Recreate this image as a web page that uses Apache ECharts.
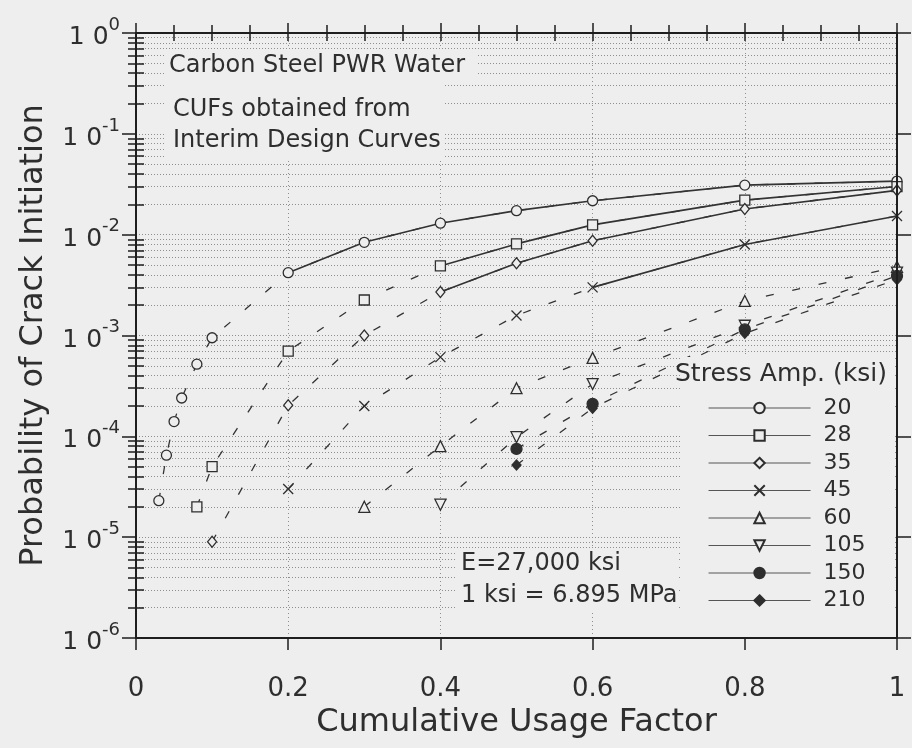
<!DOCTYPE html>
<html>
<head>
<meta charset="utf-8">
<script src="https://cdn.jsdelivr.net/npm/echarts@6/dist/echarts.min.js"></script>
<style>
  html, body { margin: 0; padding: 0; background: #eeeeee; }
  #chart { width: 912px; height: 748px; }
</style>
</head>
<body>
<div id="chart"></div>
<script>
// Stress amplitudes (ksi), in legend order
const stressAmps = ['20', '28', '35', '45', '60', '105', '150', '210'];

// Cumulative usage factor and probability of crack initiation per stress amplitude
const cuf20   = [0.03, 0.04, 0.05, 0.06, 0.08, 0.1, 0.2, 0.3, 0.4, 0.5, 0.6, 0.8, 1.0];
const prob20  = [2.3e-5, 6.5e-5, 1.4e-4, 2.4e-4, 5.2e-4, 9.5e-4, 4.2e-3, 8.4e-3, 1.3e-2, 1.73e-2, 2.17e-2, 3.1e-2, 3.4e-2];
const cuf28   = [0.08, 0.1, 0.2, 0.3, 0.4, 0.5, 0.6, 0.8, 1.0];
const prob28  = [2e-5, 5e-5, 7e-4, 2.25e-3, 4.9e-3, 8.1e-3, 1.25e-2, 2.2e-2, 3.0e-2];
const cuf35   = [0.1, 0.2, 0.3, 0.4, 0.5, 0.6, 0.8, 1.0];
const prob35  = [9e-6, 2.03e-4, 1e-3, 2.7e-3, 5.2e-3, 8.7e-3, 1.8e-2, 2.75e-2];
const cuf45   = [0.2, 0.3, 0.4, 0.5, 0.6, 0.8, 1.0];
const prob45  = [3e-5, 2e-4, 6.1e-4, 1.58e-3, 3e-3, 8e-3, 1.53e-2];
const cuf60   = [0.3, 0.4, 0.5, 0.6, 0.8, 1.0];
const prob60  = [2e-5, 8e-5, 3e-4, 6e-4, 2.2e-3, 4.8e-3];
const cuf105  = [0.4, 0.5, 0.6, 0.8, 1.0];
const prob105 = [2.1e-5, 9.8e-5, 3.3e-4, 1.25e-3, 4.2e-3];
const cuf150  = [0.5, 0.6, 0.8, 1.0];
const prob150 = [7.5e-5, 2.1e-4, 1.15e-3, 3.9e-3];
const cuf210  = [0.5, 0.6, 0.8, 1.0];
const prob210 = [5.2e-5, 1.9e-4, 1.05e-3, 3.6e-3];

// CUF from which each curve continues as a solid line (null: dashed throughout)
const solidFrom = [0.2, 0.4, 0.4, 0.6, null, null, null, null];

// Axis ranges
const cufRange = [0, 1];
const probRange = [1e-6, 1];

const FONT = '"DejaVu Sans", "Liberation Sans", sans-serif';
const INK = '#2e2e2e';
const LINE = '#333333';
const PAPER = '#eeeeee';
const GRID = '#8f8f8f';
const AXIS = '#1e1e1e';

const cufs = [cuf20, cuf28, cuf35, cuf45, cuf60, cuf105, cuf150, cuf210];
const probs = [prob20, prob28, prob35, prob45, prob60, prob105, prob150, prob210];

const markers = [
  { symbol: 'circle', size: 10, fill: PAPER },
  { symbol: 'rect', size: 10, fill: PAPER },
  { symbol: 'diamond', size: [9, 11], fill: PAPER },
  { symbol: 'path://M0,0L10,10M10,0L0,10', size: 10, fill: INK },
  { symbol: 'triangle', size: 11, fill: PAPER },
  { symbol: 'triangle', size: 11, fill: PAPER, rotate: 180 },
  { symbol: 'circle', size: 11, fill: INK },
  { symbol: 'diamond', size: [9, 10], fill: INK }
];

// Minor positions (2..9 x each decade), expressed in decades, for ticks and dotted guides
const minorDecades = [];
for (let d = -6; d < 0; d++) {
  for (let k = 2; k <= 9; k++) minorDecades.push(d + Math.log10(k));
}

const series = [];
stressAmps.forEach((name, i) => {
  const pts = cufs[i].map((x, j) => [x, probs[i][j]]);
  const m = markers[i];
  series.push({
    name: name,
    type: 'line',
    data: pts,
    z: 4,
    symbol: m.symbol,
    symbolSize: m.size,
    symbolRotate: m.rotate || 0,
    showAllSymbol: true,
    lineStyle: { color: LINE, width: 1.3, type: [8, 19] },
    itemStyle: { color: m.fill, borderColor: INK, borderWidth: 1.3 },
    emphasis: { disabled: true },
    silent: true
  });
  if (solidFrom[i] !== null) {
    series.push({
      name: name + ' ksi (solid)',
      type: 'line',
      data: pts.filter(p => p[0] >= solidFrom[i]),
      z: 3,
      symbol: 'none',
      lineStyle: { color: LINE, width: 1.6, type: 'solid' },
      emphasis: { disabled: true },
      silent: true
    });
  }
});

const chart = echarts.init(document.getElementById('chart'), null, { renderer: 'canvas' });

const tickLabelRich = {
  m: { fontFamily: FONT, fontSize: 25, color: INK, verticalAlign: 'bottom' },
  e: { fontFamily: FONT, fontSize: 18, color: INK, verticalAlign: 'top', padding: [0, 0, 16, 0] }
};

const dotted = { color: GRID, width: 1, type: [1, 2] };

// Plain panels that keep the dotted grid out from behind the notes and the key
const panel = (x, y, w, h) => ({ type: 'rect', z: 5, silent: true, shape: { x: x, y: y, width: w, height: h }, style: { fill: PAPER } });
const note = (x, y, text, size) => ({ type: 'text', z: 11, silent: true, x: x, y: y, style: { text: text, font: size + 'px ' + FONT, fill: INK, verticalAlign: 'middle' } });

chart.setOption({
  animation: false,
  backgroundColor: PAPER,
  textStyle: { fontFamily: FONT },
  grid: { left: 136, right: 15, top: 33, bottom: 110 },
  legend: {
    data: stressAmps,
    orient: 'vertical',
    left: 708,
    top: 397,
    padding: 0,
    itemWidth: 102,
    itemHeight: 13,
    itemGap: 5.5,
    selectedMode: false,
    z: 10,
    lineStyle: { type: 'solid', width: 1.1, color: '#555' },
    textStyle: { fontFamily: FONT, fontSize: 22, color: INK, lineHeight: 22, padding: [0, 0, 0, 8] }
  },
  xAxis: [
    {
      type: 'value', min: cufRange[0], max: cufRange[1], interval: 0.2, position: 'bottom',
      axisLine: { onZero: false, lineStyle: { color: AXIS, width: 2 } },
      axisTick: { inside: false, length: 12, lineStyle: { color: AXIS, width: 1.5 } },
      axisLabel: { margin: 38, fontFamily: FONT, fontSize: 26, color: INK },
      splitLine: { show: true, lineStyle: { color: GRID, width: 1, type: [1, 3] } },
      name: 'Cumulative Usage Factor', nameLocation: 'middle', nameGap: 68,
      nameTextStyle: { fontFamily: FONT, fontSize: 32, color: INK }
    },
    {
      type: 'value', min: cufRange[0], max: cufRange[1], interval: 0.05, position: 'bottom', z: 6,
      axisLine: { show: false },
      axisTick: { inside: true, length: 8, lineStyle: { color: AXIS, width: 1.5 } },
      axisLabel: { show: false }, splitLine: { show: false }
    },
    {
      type: 'value', min: cufRange[0], max: cufRange[1], interval: 0.2, position: 'top', z: 6,
      axisLine: { onZero: false, lineStyle: { color: AXIS, width: 2 } },
      axisTick: { inside: false, length: 10, lineStyle: { color: AXIS, width: 1.5 } },
      axisLabel: { show: false }, splitLine: { show: false }
    },
    {
      type: 'value', min: cufRange[0], max: cufRange[1], interval: 0.05, position: 'top', z: 6,
      axisLine: { show: false },
      axisTick: { inside: true, length: 8, lineStyle: { color: AXIS, width: 1.5 } },
      axisLabel: { show: false }, splitLine: { show: false }
    }
  ],
  yAxis: [
    {
      type: 'log', logBase: 10, min: probRange[0], max: probRange[1], position: 'left',
      axisLine: { onZero: false, lineStyle: { color: AXIS, width: 2 } },
      axisTick: { inside: false, length: 14, lineStyle: { color: AXIS, width: 1.5 } },
      axisLabel: {
        margin: 16,
        formatter: v => '{m|1 0}{e|' + Math.round(Math.log10(v)) + '}',
        rich: tickLabelRich
      },
      splitLine: { show: true, lineStyle: dotted },
      name: 'Probability of Crack Initiation', nameLocation: 'middle', nameGap: 86, nameRotate: 90,
      nameTextStyle: { fontFamily: FONT, fontSize: 32, color: INK }
    },
    {
      type: 'value', min: Math.log10(probRange[0]), max: Math.log10(probRange[1]), position: 'left',
      axisLine: { show: false },
      axisTick: { inside: true, length: 8, customValues: minorDecades, lineStyle: { color: AXIS, width: 1.5 } },
      axisLabel: { show: false },
      splitLine: { show: true, lineStyle: dotted }
    },
    {
      type: 'log', logBase: 10, min: probRange[0], max: probRange[1], position: 'right', z: 6,
      axisLine: { onZero: false, lineStyle: { color: AXIS, width: 2 } },
      axisTick: { inside: false, length: 14, lineStyle: { color: AXIS, width: 1.5 } },
      axisLabel: { show: false }, splitLine: { show: false }
    },
    {
      type: 'value', min: Math.log10(probRange[0]), max: Math.log10(probRange[1]), position: 'right', z: 6,
      axisLine: { show: false },
      axisTick: { inside: true, length: 8, customValues: minorDecades, lineStyle: { color: AXIS, width: 1.5 } },
      axisLabel: { show: false }, splitLine: { show: false }
    }
  ],
  graphic: [
    panel(682, 357, 213, 279),
    panel(164, 49, 313, 30),
    panel(164, 79, 281, 79),
    panel(456, 549, 222, 62),
    note(675, 374, 'Stress Amp. (ksi)', 25),
    note(169, 66, 'Carbon Steel PWR Water', 24),
    note(173, 110, 'CUFs obtained from', 24),
    note(173, 141, 'Interim Design Curves', 24),
    note(461, 564, 'E=27,000 ksi', 24),
    note(461, 596, '1 ksi = 6.895 MPa', 24)
  ],
  series: series
});
</script>
</body>
</html>
